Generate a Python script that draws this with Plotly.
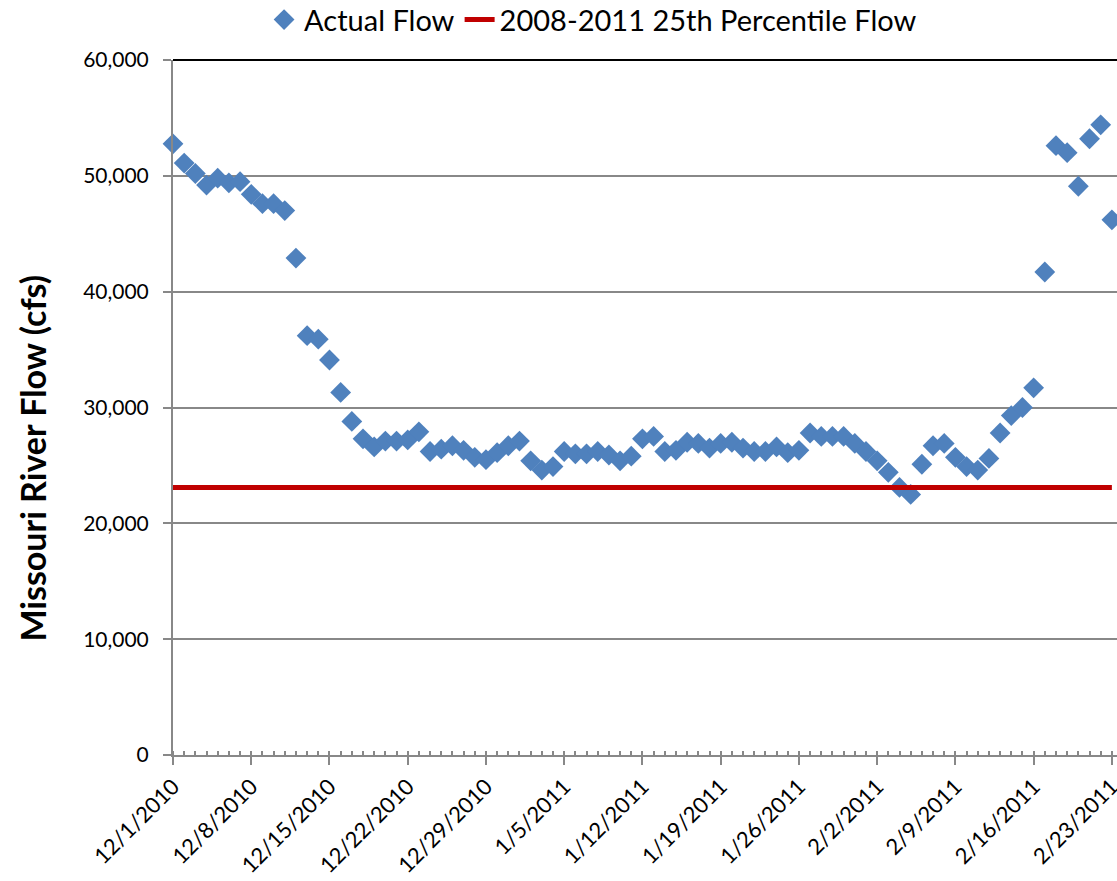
import pandas as pd
import plotly.graph_objects as go

# daily Missouri River flow (cfs), 12/1/2010 .. 2/23/2011
start_date = "2010-12-01"
actual_flow = [
    52760, 51100, 50200, 49200, 49800, 49400, 49500, 48400, 47600, 47600,
    47000, 42900, 36200, 35900, 34100, 31300, 28800, 27300, 26600, 27100,
    27100, 27200, 27900, 26200, 26400, 26700, 26300, 25700, 25500, 26100,
    26700, 27100, 25400, 24600, 24900, 26200, 26000, 26000, 26200, 25900,
    25400, 25800, 27300, 27500, 26200, 26300, 27000, 26900, 26500, 26900,
    27000, 26500, 26200, 26200, 26600, 26100, 26300, 27800, 27500, 27500,
    27500, 26900, 26200, 25400, 24400, 23100, 22500, 25100, 26700, 26900,
    25700, 24900, 24600, 25600, 27800, 29300, 30000, 31700, 41700, 52600,
    52000, 49100, 53200, 54400, 46200,
]
percentile_25 = 23100

dates = pd.date_range(start_date, periods=len(actual_flow), freq="D")

font = "Lato, Open Sans, sans-serif"
axis_grey = "#888888"

fig = go.Figure()
fig.add_trace(go.Scatter(
    x=dates, y=actual_flow, mode="markers", name="Actual Flow",
    marker=dict(symbol="diamond", size=16, color="#4F81BD"),
    cliponaxis=False,
))
fig.add_trace(go.Scatter(
    x=[dates[0], dates[-1]], y=[percentile_25, percentile_25], mode="lines",
    name="2008-2011 25th Percentile Flow",
    line=dict(color="#C00000", width=5),
))

# plot area runs a little past the last day, like the Excel original
x_end = dates[-1] + pd.Timedelta(hours=11)

fig.update_layout(
    width=1117, height=881,
    paper_bgcolor="white", plot_bgcolor="white",
    margin=dict(l=173, r=0, t=60, b=126, autoexpand=False),
    font=dict(family=font, size=21, color="black"),
    showlegend=True,
    legend=dict(orientation="h", x=0.445, xanchor="center", y=1.058, yanchor="middle",
                font=dict(size=29), itemwidth=30, traceorder="normal"),
    xaxis=dict(
        range=[dates[0], x_end], automargin=False,
        tickformat="%-m/%-d/%Y", tick0=dates[0], dtick=7 * 86400000,
        tickangle=-45, ticks="outside", ticklen=8, tickcolor=axis_grey, tickwidth=2,
        tickfont=dict(size=22), ticklabeloverflow="allow",
        showline=True, linecolor=axis_grey, linewidth=2,
        showgrid=False, zeroline=False,
        minor=dict(ticks="inside", ticklen=4, dtick=86400000, tickcolor=axis_grey,
                   tickwidth=2, showgrid=False),
    ),
    yaxis=dict(
        range=[0, 60000], dtick=10000, tickformat=",d", automargin=False,
        ticks="outside", ticklen=8, tickcolor=axis_grey, tickwidth=2,
        ticklabelstandoff=10,
        showline=True, linecolor=axis_grey, linewidth=2,
        showgrid=True, gridcolor=axis_grey, gridwidth=2, zeroline=False,
    ),
)

fig.add_annotation(
    text="<b>Missouri River Flow (cfs)</b>", textangle=-90,
    xref="paper", yref="paper", x=-0.149, y=0.427, xanchor="center", yanchor="middle",
    showarrow=False, font=dict(size=34),
)

# dark top border of the plot area
fig.add_shape(type="line", xref="paper", yref="paper", x0=0, x1=1, y0=1, y1=1,
              line=dict(color="black", width=2))

fig.write_html("out.html", config={"displayModeBar": False},
               post_script="document.body.style.margin='0';document.body.style.overflow='hidden';")
